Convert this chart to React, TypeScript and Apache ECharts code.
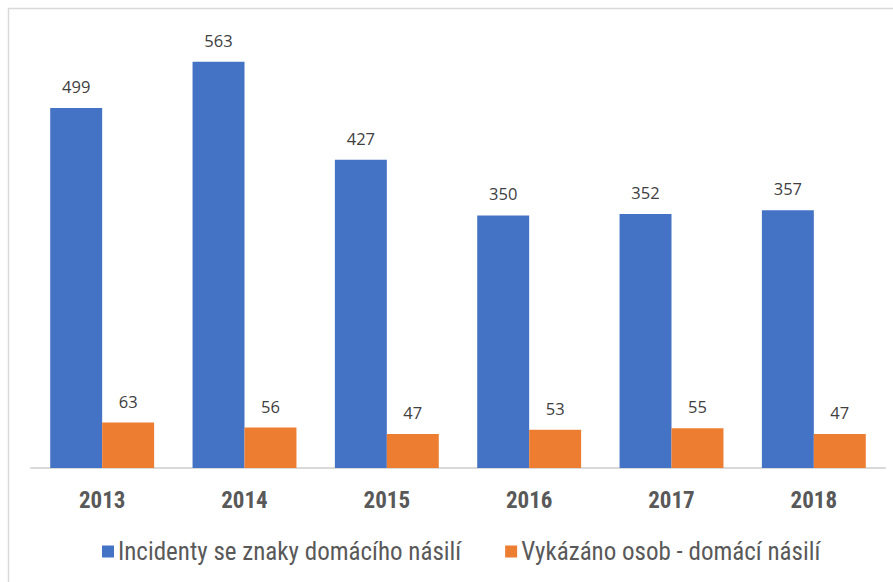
import React, { useEffect, useRef } from "react";
import * as echarts from "echarts";

const years = ["2013", "2014", "2015", "2016", "2017", "2018"];
const incidents = [499, 563, 427, 350, 352, 357];
const persons = [63, 56, 47, 53, 55, 47];
const seriesNames = ["Incidenty se znaky domácího násilí", "Vykázáno osob - domácí násilí"];

const narrow = "'Liberation Sans Narrow', 'Arial Narrow', 'Roboto Condensed', sans-serif";

export default function App() {
  const ref = useRef<HTMLDivElement>(null);
  useEffect(() => {
    document.body.style.margin = "0";
    document.body.style.overflow = "hidden";
    const chart = echarts.init(ref.current!, undefined, { renderer: "svg" });
    chart.setOption({
      animation: false,
      backgroundColor: "#ffffff",
      graphic: [
        {
          type: "polyline",
          shape: { points: [[8.5, 600], [8.5, 8.5], [900, 8.5]] },
          style: { stroke: "#d9d9d9", fill: null, lineWidth: 1.5 },
          silent: true,
        },
      ],
      grid: { left: 31, right: 8, top: 35, bottom: 114, containLabel: false },
      xAxis: {
        type: "category",
        data: years,
        axisTick: { show: false },
        axisLine: { lineStyle: { color: "#d9d9d9", width: 2 } },
        axisLabel: {
          color: "#595959",
          fontFamily: narrow,
          fontWeight: "bold",
          fontSize: 23,
          margin: 21,
        },
      },
      yAxis: {
        type: "value",
        min: 0,
        max: 600,
        show: false,
        splitLine: { show: false },
      },
      legend: {
        bottom: 13,
        left: 97,
        itemWidth: 12,
        itemHeight: 12,
        itemGap: 44,
        icon: "rect",
        textStyle: { color: "#595959", fontFamily: narrow, fontSize: 25, padding: [0, 0, 0, -1] },
        data: seriesNames,
      },
      series: [
        {
          name: seriesNames[0],
          type: "bar",
          data: incidents,
          barGap: "0%",
          barCategoryGap: "27%",
          itemStyle: { color: "#4472C4" },
          label: {
            show: true,
            position: "top",
            distance: 13,
            color: "#404040",
            fontFamily: "'Open Sans', sans-serif",
            fontSize: 16.5,
          },
        },
        {
          name: seriesNames[1],
          type: "bar",
          data: persons,
          itemStyle: { color: "#ED7D31" },
          label: {
            show: true,
            position: "top",
            distance: 13,
            color: "#404040",
            fontFamily: "'Open Sans', sans-serif",
            fontSize: 16.5,
          },
        },
      ],
    });
    return () => chart.dispose();
  }, []);
  return <div ref={ref} style={{ position: "fixed", left: 0, top: 0, width: 893, height: 582 }} />;
}
